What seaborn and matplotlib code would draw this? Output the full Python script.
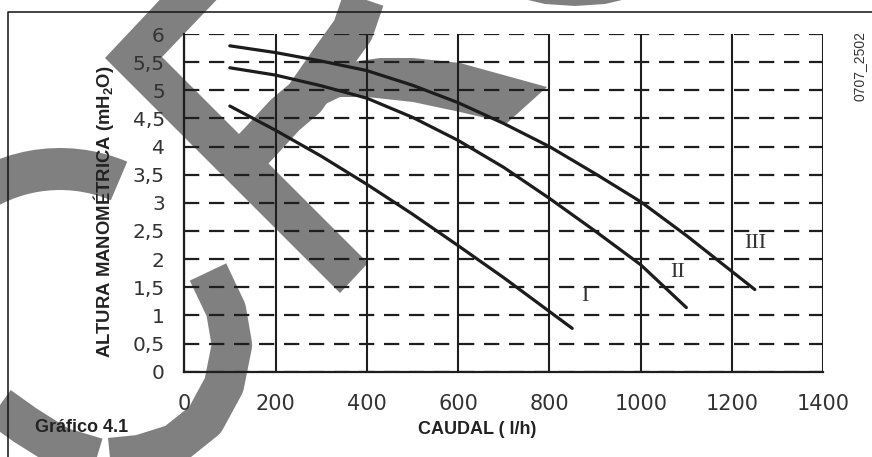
import numpy as np
import pandas as pd
import matplotlib
matplotlib.use("Agg")
import matplotlib.pyplot as plt
import seaborn as sns
from matplotlib.patches import Polygon, Wedge
from matplotlib.lines import Line2D
from matplotlib.transforms import Affine2D

# Pump curves (caudal l/h, altura mH2O)
caudal_I = [100, 200, 300, 400, 500, 600, 700, 800, 850]
altura_I = [4.72, 4.29, 3.83, 3.33, 2.80, 2.24, 1.67, 1.07, 0.77]
caudal_II = [100, 200, 300, 400, 500, 600, 700, 800, 900, 1000, 1100]
altura_II = [5.40, 5.27, 5.08, 4.86, 4.52, 4.11, 3.63, 3.08, 2.50, 1.90, 1.14]
caudal_III = [100, 200, 300, 400, 500, 600, 700, 800, 900, 1000, 1100, 1200, 1250]
altura_III = [5.79, 5.67, 5.52, 5.35, 5.09, 4.78, 4.41, 4.00, 3.52, 3.02,
              2.42, 1.78, 1.46]
curve_names = ["I", "II", "III"]

x_ticks = [0, 200, 400, 600, 800, 1000, 1200, 1400]
y_ticks = [0, 0.5, 1, 1.5, 2, 2.5, 3, 3.5, 4, 4.5, 5, 5.5, 6]
y_tick_labels = ["0", "0,5", "1", "1,5", "2", "2,5", "3", "3,5",
                 "4", "4,5", "5", "5,5", "6"]

# Long-form table for seaborn
df = pd.concat([
    pd.DataFrame({"caudal": caudal_I, "altura": altura_I, "curva": "I"}),
    pd.DataFrame({"caudal": caudal_II, "altura": altura_II, "curva": "II"}),
    pd.DataFrame({"caudal": caudal_III, "altura": altura_III, "curva": "III"}),
], ignore_index=True)

sns.set_style("white")
plt.rcParams["font.family"] = ["DejaVu Sans"]
plt.rcParams["mathtext.default"] = "regular"
plt.rcParams["lines.scale_dashes"] = False

W, H = 872, 457
fig = plt.figure(figsize=(W / 100, H / 100), dpi=100)
fig.patch.set_facecolor("white")

# pixel coordinates with origin at top-left
px = Affine2D().scale(1, -1).translate(0, H)

# grey background marks (watermark strokes behind the chart)
wm = "#808080"
fig.add_artist(Polygon([(169, -10), (226, -10), (162, 57), (368, 263),
                        (340, 293), (105, 58)], closed=True, facecolor=wm,
                       edgecolor="none", transform=px, zorder=-2))
fig.add_artist(Polygon([(330, 70), (345, 63), (380, 58), (413, 58), (460, 63),
                        (547, 87), (507, 123), (460, 112), (413, 102),
                        (367, 97), (340, 97), (313, 110)], closed=True,
                       facecolor=wm, edgecolor="none", transform=px, zorder=-2))
fig.add_artist(Polygon([(528, 0), (545, 4), (575, 6), (605, 4), (622, 0)],
                       closed=True, facecolor=wm, edgecolor="none",
                       transform=px, zorder=-2))
fig.add_artist(Wedge((60, 320), 172, -200, -67, width=42, facecolor=wm,
                     edgecolor="none", transform=px, zorder=-2))
fig.add_artist(Line2D([365, 353, 330, 305, 285, 262, 245],
                      [-5, 30, 62, 98, 115, 140, 158], color=wm, lw=30,
                      solid_capstyle="butt", solid_joinstyle="round",
                      transform=px, zorder=-2))
fig.add_artist(Line2D([208, 226, 232, 224, 205, 175, 140, 100, 60, 25, -10],
                      [272, 310, 345, 385, 420, 444, 455, 459, 447, 425, 400],
                      color=wm, lw=29, solid_capstyle="butt",
                      solid_joinstyle="round", transform=px, zorder=-2))

# frame of the figure (open to the right and bottom)
fig.add_artist(Line2D([8, 8, 880], [470, 12, 12], color="#111111", lw=1.1,
                      transform=px, zorder=5))

ax = fig.add_axes([184.2 / W, 85.3 / H, 639.1 / W, 337.7 / H])
ax.set_facecolor("none")

sns.lineplot(data=df, x="caudal", y="altura", hue="curva", sort=False,
             palette={"I": "#1c1c1c", "II": "#1c1c1c", "III": "#1c1c1c"},
             linewidth=2.3, legend=False, ax=ax, zorder=4)

ax.set_xlim(0, 1400)
ax.set_ylim(0, 6)
ax.set_xticks(x_ticks)
ax.set_yticks(y_ticks)
ax.set_yticklabels(y_tick_labels)
ax.set_xlabel("")
ax.set_ylabel("")

ax.xaxis.grid(True, color="#1e1e1e", linewidth=1.5, linestyle="-")
ax.yaxis.grid(True, color="#1e1e1e", linewidth=1.6, linestyle=(0, (11, 7)))
ax.set_axisbelow(True)
for side in ["top", "right"]:
    ax.spines[side].set_visible(False)
for side in ["left", "bottom"]:
    ax.spines[side].set_color("#1e1e1e")
    ax.spines[side].set_linewidth(1.6)

ax.tick_params(axis="both", direction="out", length=6, width=1.3,
               color="#1e1e1e", labelcolor="#333333")
ax.tick_params(axis="y", labelsize=14.5, pad=8)
ax.tick_params(axis="x", labelsize=15, pad=10)

# curve names
for name, qx, hy in zip(curve_names, [878, 1080, 1250], [1.33, 1.77, 2.27]):
    ax.text(qx, hy, name, family=["Liberation Serif", "DejaVu Serif"],
            fontsize=16, color="#333333", ha="center", va="center")

# texts placed in pixel coordinates
fig.text(104, 212, "ALTURA MANOMÉTRICA (mH$_2$O)", rotation=90,
         family=["Liberation Sans", "DejaVu Sans"], fontweight="bold",
         fontsize=13.3, color="#222222", ha="center", va="center", transform=px)
fig.text(477, 429, "CAUDAL ( l/h)", family=["Liberation Sans", "DejaVu Sans"],
         fontweight="bold", fontsize=13, color="#222222", ha="center",
         va="center", transform=px)
fig.text(35, 428, "Gráfico 4.1", family=["Liberation Sans", "DejaVu Sans"],
         fontweight="bold", fontsize=13, color="#222222", ha="left",
         va="center", transform=px)
fig.text(860, 66, "0707_2502", rotation=90,
         family=["Liberation Sans", "DejaVu Sans"], fontsize=10,
         color="#333333", ha="center", va="center", transform=px)

fig.savefig("out.png", dpi=100)
